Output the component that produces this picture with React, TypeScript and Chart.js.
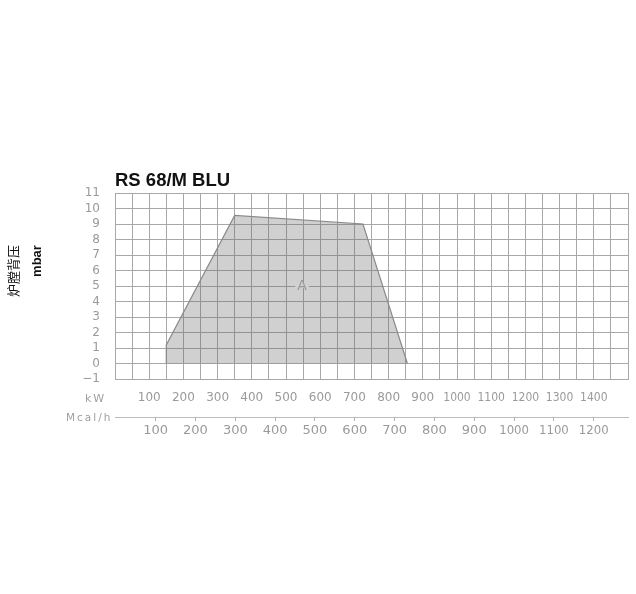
import React, { useEffect, useRef } from 'react';
import { Chart, registerables } from 'chart.js';

Chart.register(...registerables);

// ---- texts ----
const chartTitle = 'RS 68/M BLU';
const yTitleCn = '炉膛背压';
const yUnit = 'mbar';
const kwUnit = 'kW';
const mcalUnit = 'Mcal/h';
const areaLabel = 'A';

// ---- data: firing envelope (kW vs mbar) ----
const envelopeKW = [150, 150, 350, 725, 855];
const envelopeMbar = [0, 1.2, 9.55, 9.0, 0];
const areaLabelKW = 547;
const areaLabelMbar = 5;

// ---- axes ----
const kwMin = 0;
const kwMax = 1500;
const kwGridStep = 50;
const kwTickLabels = [100, 200, 300, 400, 500, 600, 700, 800, 900, 1000, 1100, 1200, 1300, 1400];
const mcalMin = -2;
const mcalMax = 1286;
const mcalTickLabels = [100, 200, 300, 400, 500, 600, 700, 800, 900, 1000, 1100, 1200];
const mbarTicks = [-1, 0, 1, 2, 3, 4, 5, 6, 7, 8, 9, 10, 11];

const gridColor = '#a8a8a8';
const tickColor = '#9a9a9a';
const fillColor = 'rgba(100,100,100,0.3)';
const fillOnWhite = 'rgb(209,209,209)';

const kwGrid: number[] = [];
for (let v = kwMin; v <= kwMax; v += kwGridStep) kwGrid.push(v);

const textPlugin = {
  id: 'extraText',
  afterDraw(chart: any) {
    const { ctx, chartArea, scales } = chart;
    ctx.save();
    // title
    ctx.font = 'bold 18.5px "Liberation Sans", Arial, sans-serif';
    ctx.fillStyle = '#111';
    ctx.textAlign = 'left';
    ctx.textBaseline = 'alphabetic';
    ctx.fillText(chartTitle, chartArea.left, chartArea.top - 7);

    // area label
    const ax = scales.x.getPixelForValue(areaLabelKW);
    const ay = scales.y.getPixelForValue(areaLabelMbar);
    ctx.font = '14px "DejaVu Sans", sans-serif';
    const w = ctx.measureText(areaLabel).width;
    ctx.fillStyle = fillOnWhite;
    ctx.fillRect(ax - w / 2 - 2, ay - 2, w + 4, 4);
    ctx.fillStyle = '#999';
    ctx.textAlign = 'center';
    ctx.textBaseline = 'middle';
    ctx.fillText(areaLabel, ax, ay);

    // y titles (rotated)
    ctx.fillStyle = '#111';
    ctx.save();
    ctx.translate(13, 271);
    ctx.rotate(-Math.PI / 2);
    ctx.font = '13px "Noto Sans CJK SC", sans-serif';
    ctx.textAlign = 'center';
    ctx.textBaseline = 'middle';
    ctx.fillText(yTitleCn, 0, 0);
    ctx.restore();
    ctx.save();
    ctx.translate(37.5, 261);
    ctx.rotate(-Math.PI / 2);
    ctx.font = 'bold 13px "Liberation Sans", Arial, sans-serif';
    ctx.textAlign = 'center';
    ctx.textBaseline = 'middle';
    ctx.fillText(yUnit, 0, 0);
    ctx.restore();

    // unit labels of x axes
    ctx.fillStyle = '#a0a0a0';
    ctx.textAlign = 'left';
    ctx.textBaseline = 'middle';
    ctx.font = '11px "DejaVu Sans", sans-serif';
    (ctx as any).letterSpacing = '2px';
    ctx.fillText(kwUnit, 85, 399);
    ctx.font = '10.5px "DejaVu Sans", sans-serif';
    (ctx as any).letterSpacing = '2px';
    ctx.fillText(mcalUnit, 66, 418);
    (ctx as any).letterSpacing = '0px';
    ctx.restore();
  },
};

export default function App() {
  const ref = useRef<HTMLCanvasElement | null>(null);

  useEffect(() => {
    if (!ref.current) return;
    const chart = new Chart(ref.current, {
      type: 'scatter',
      data: {
        datasets: [
          {
            data: envelopeKW.map((x, i) => ({ x, y: envelopeMbar[i] })),
            showLine: true,
            fill: 'origin',
            backgroundColor: fillColor,
            borderColor: '#8a8a8a',
            borderWidth: 1.2,
            pointRadius: 0,
            tension: 0,
          } as any,
        ],
      },
      options: {
        animation: false,
        responsive: true,
        maintainAspectRatio: false,
        layout: { padding: { top: 193, right: 8, bottom: 0, left: 0 } },
        plugins: { legend: { display: false }, tooltip: { enabled: false }, title: { display: false } },
        events: [],
        scales: {
          x: {
            type: 'linear',
            position: 'bottom',
            weight: 0,
            min: kwMin,
            max: kwMax,
            afterBuildTicks: (s: any) => {
              s.ticks = kwGrid.map((v) => ({ value: v }));
            },
            afterFit: (s: any) => {
              s.height = 38;
              s.paddingLeft = 0;
              s.paddingRight = 0;
            },
            grid: { color: gridColor, lineWidth: 1, drawTicks: false },
            border: { display: true, color: gridColor },
            ticks: {
              autoSkip: false,
              maxRotation: 0,
              padding: 12,
              color: tickColor,
              font: (c: any) =>
                c.tick && c.tick.value >= 1000
                  ? { family: '"DejaVu Sans Condensed", "DejaVu Sans", sans-serif', size: 12 }
                  : { family: '"DejaVu Sans", sans-serif', size: 12 },
              callback: (v: any) => (kwTickLabels.includes(Number(v)) ? String(v) : ''),
            },
          },
          mcal: {
            type: 'linear',
            axis: 'x',
            position: 'bottom',
            weight: 1,
            min: mcalMin,
            max: mcalMax,
            afterBuildTicks: (s: any) => {
              s.ticks = mcalTickLabels.map((v) => ({ value: v }));
            },
            afterFit: (s: any) => {
              s.height = 177;
              s.paddingLeft = 0;
              s.paddingRight = 0;
            },
            grid: { drawOnChartArea: false, drawTicks: true, tickLength: 4, color: '#b0b0b0' },
            border: { display: true, color: '#bdbdbd' },
            ticks: {
              autoSkip: false,
              maxRotation: 0,
              padding: 2,
              color: tickColor,
              font: (c: any) =>
                c.tick && c.tick.value >= 1000
                  ? { family: '"DejaVu Sans Condensed", "DejaVu Sans", sans-serif', size: 13 }
                  : { family: '"DejaVu Sans", sans-serif', size: 13 },
              callback: (v: any) => String(v),
            },
          },
          y: {
            type: 'linear',
            min: mbarTicks[0],
            max: mbarTicks[mbarTicks.length - 1],
            afterBuildTicks: (s: any) => {
              s.ticks = mbarTicks.map((v) => ({ value: v }));
            },
            afterFit: (s: any) => {
              s.width = 115;
            },
            grid: { color: gridColor, lineWidth: 1, drawTicks: false },
            border: { display: true, color: gridColor },
            ticks: {
              autoSkip: false,
              padding: 15,
              color: tickColor,
              font: { family: '"DejaVu Sans", sans-serif', size: 12 },
              callback: (v: any) => (Number(v) < 0 ? '\u2212' + Math.abs(Number(v)) : String(v)),
            },
          },
        } as any,
      },
      plugins: [textPlugin],
    });
    return () => chart.destroy();
  }, []);

  return (
    <div style={{ position: 'fixed', left: 0, top: 0, width: 636, height: 594, background: '#fff' }}>
      <canvas ref={ref} />
    </div>
  );
}
